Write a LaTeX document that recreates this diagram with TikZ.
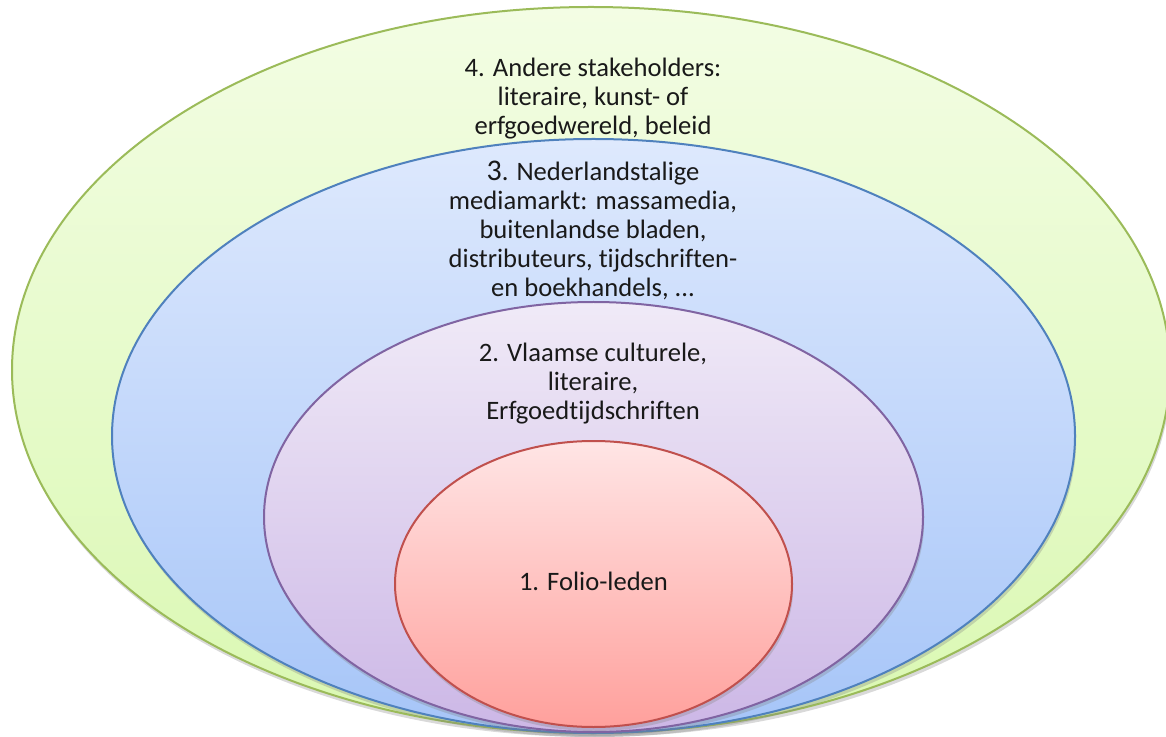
\documentclass[tikz,border=0pt]{standalone}
\usepackage{fontspec}
\setmainfont{Carlito}[Ligatures=NoCommon]
\usepackage{tikz}
\usetikzlibrary{
  shapes.geometric,
  shadows
}
\definecolor{outerline}{RGB}{155,187,89}
\definecolor{outertop}{RGB}{243,253,228}
\definecolor{outerbot}{RGB}{218,248,178}
\definecolor{mediline}{RGB}{79,129,189}
\definecolor{meditop}{RGB}{222,233,253}
\definecolor{medibot}{RGB}{166,197,248}
\definecolor{vlaline}{RGB}{128,100,162}
\definecolor{vlatop}{RGB}{240,234,247}
\definecolor{vlabot}{RGB}{204,183,230}
\definecolor{folline}{RGB}{192,80,77}
\definecolor{foltop}{RGB}{255,229,229}
\definecolor{folbot}{RGB}{255,160,156}

\begin{document}
\begin{tikzpicture}[
  x=0.5pt, y=-0.5pt,
  every node/.style={font=\fontsize{13.3}{14.5}\selectfont, text=black!90},
  ring/.style={ellipse, draw, line width=1pt, inner sep=0pt, outer sep=0pt,
    drop shadow={opacity=0.3, shadow xshift=0.6pt, shadow yshift=-2pt}},
  ringtext/.style={align=center}
]

\clip (0,0) rectangle (1166,737);
\useasboundingbox (0,0) rectangle (1166,737);

% Nested rings, outside in
\node[ring, minimum width=579pt, minimum height=363pt,
      draw=outerline, top color=outertop, bottom color=outerbot]
  (stakeholders) at (591, 370) {};
\node[ring, minimum width=481.5pt, minimum height=297pt,
      draw=mediline, top color=meditop, bottom color=medibot]
  (mediamarkt) at (593.5, 436) {};
\node[ring, minimum width=329.5pt, minimum height=215pt,
      draw=vlaline, top color=vlatop, bottom color=vlabot]
  (vlaams) at (593.5, 517) {};
\node[ring, minimum width=198.5pt, minimum height=143pt,
      draw=folline, top color=foltop, bottom color=folbot]
  (folio) at (593.5, 584) {};

% Ring labels
\node[ringtext] (stakeholderstext) at (593, 99)
  {4. Andere stakeholders:\\literaire, kunst- of\\erfgoedwereld, beleid};
\node[ringtext] (mediamarkttext) at (593, 230)
  {{\fontsize{15}{14.5}\selectfont 3}. Nederlandstalige\\mediamarkt: massamedia,\\buitenlandse bladen,\\distributeurs, tijdschriften-\\en boekhandels, ...};
\node[ringtext] (vlaamstext) at (593, 384)
  {2. Vlaamse culturele,\\literaire,\\Erfgoedtijdschriften};
\node[ringtext, anchor=base] (foliotext) at (593.5, 590) {1. Folio-leden};

\end{tikzpicture}
\end{document}
